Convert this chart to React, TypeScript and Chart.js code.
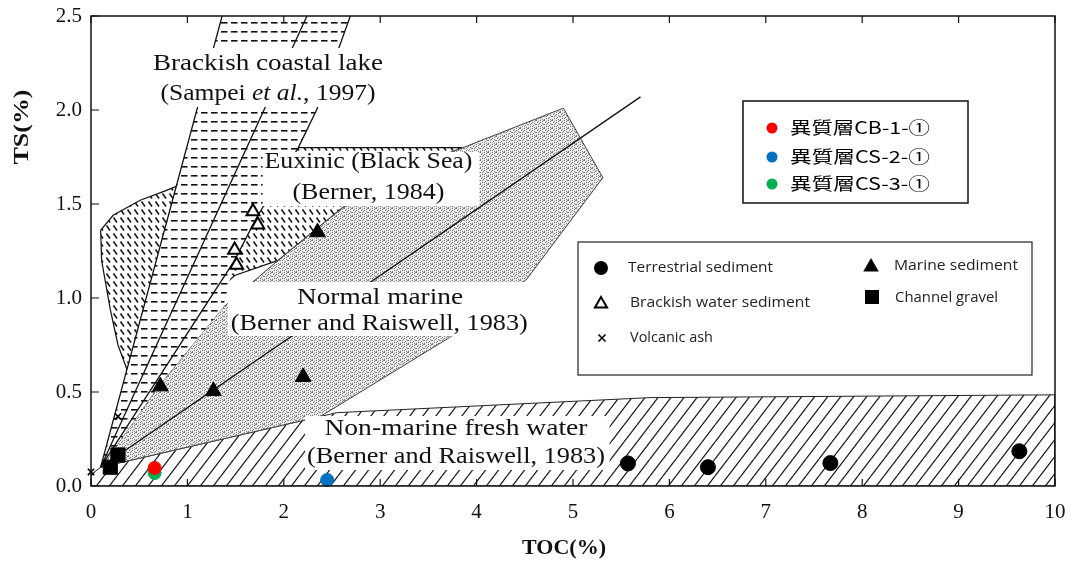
import React, { useEffect, useRef } from 'react';
import { Chart, registerables } from 'chart.js';

Chart.register(...registerables);

// ---------------- axes ----------------
const X_MIN = 0;
const X_MAX = 10;
const X_STEP = 1;
const Y_MIN = 0;
const Y_MAX = 2.5;
const Y_STEP = 0.5;
const xTitle = 'TOC(%)';
const yTitle = 'TS(%)';

// ---------------- sample points (coloured) ----------------
const sampleNames = ['異質層CB-1-①', '異質層CS-2-①', '異質層CS-3-①'];
const sampleColors = ['#ff0000', '#0070c0', '#00b050'];
const sampleTOC = [0.66, 2.45, 0.66];
const sampleTS = [0.096, 0.032, 0.069];

// ---------------- reference sediment points ----------------
const terrestrialTOC = [5.57, 6.4, 7.67, 9.63];
const terrestrialTS = [0.12, 0.1, 0.122, 0.185];
const marineTOC = [0.72, 1.27, 2.2, 2.35];
const marineTS = [0.53, 0.505, 0.58, 1.35];
const brackishTOC = [1.68, 1.73, 1.49, 1.51];
const brackishTS = [1.46, 1.39, 1.255, 1.175];
const gravelTOC = [0.2, 0.28];
const gravelTS = [0.1, 0.165];
const ashTOC = [0.0, 0.28];
const ashTS = [0.075, 0.37];

// ---------------- field outlines ----------------
const freshwaterTOC = [0, 0, 0.1, 2.38, 2.55, 5.8, 10, 10, 0];
const freshwaterTS = [0, 0.06, 0.1, 0.37, 0.39, 0.47, 0.485, 0, 0];
const euxinicTOC = [0.38, 0.28, 0.2, 0.11, 0.1, 0.23, 0.51, 0.77, 1.44, 2.15, 3.86, 3.21, 2.61, 1.94, 1.49, 0.38];
const euxinicTS = [0.61, 0.75, 0.94, 1.2, 1.36, 1.44, 1.52, 1.57, 1.71, 1.8, 1.8, 1.67, 1.48, 1.2, 1.12, 0.61];
const normalMarineTOC = [0.1, 0.145, 0.7, 1.37, 1.94, 2.61, 3.21, 3.86, 4.9, 5.31, 4.52, 3.72, 2.38, 0.1];
const normalMarineTS = [0.1, 0.128, 0.53, 0.95, 1.2, 1.48, 1.67, 1.8, 2.01, 1.64, 1.1, 0.79, 0.37, 0.1];
const brackishLakeTOC = [0.1, 1.36, 2.69, 2.34, 2.15, 1.71, 1.49, 1.37, 0.7, 0.145, 0.1];
const brackishLakeTS = [0.1, 2.5, 2.5, 2.0, 1.8, 1.42, 1.2, 0.95, 0.53, 0.128, 0.1];

// ---------------- lines ----------------
const line1TOC = [0.1, 1.36];
const line1TS = [0.1, 2.5];
const line2TOC = [0.1, 2.24];
const line2TS = [0.1, 2.5];
const line3TOC = [0.1, 1.49, 1.71, 2.15, 2.34, 2.69];
const line3TS = [0.1, 1.2, 1.42, 1.8, 2.0, 2.5];
const line4TOC = [0.1, 5.7];
const line4TS = [0.1, 2.07];

// ---------------- text ----------------
const SERIF = "'Liberation Serif', 'Times New Roman', serif";
const SANS = "'Open Sans', 'Noto Sans', sans-serif";
const CJK = "'Noto Sans CJK JP', 'Noto Sans', sans-serif";

const fieldLabels = [
  {
    box: [0.59, 3.08, 2.016, 2.33],
    rows: [
      { x: 1.836, y: 2.245, w: 230, parts: [{ text: 'Brackish coastal lake' }] },
      { x: 1.836, y: 2.085, w: 215, parts: [{ text: '(Sampei ' }, { text: 'et al.', italic: true }, { text: ', 1997)' }] },
    ],
  },
  {
    box: [1.78, 4.03, 1.489, 1.777],
    rows: [
      { x: 2.878, y: 1.723, w: 208, parts: [{ text: 'Euxinic (Black Sea)' }] },
      { x: 2.878, y: 1.559, w: 152, parts: [{ text: '(Berner, 1984)' }] },
    ],
  },
  {
    box: [1.42, 4.61, 0.798, 1.085],
    rows: [
      { x: 2.998, y: 1.0, w: 166, parts: [{ text: 'Normal marine' }] },
      { x: 2.99, y: 0.862, w: 297, parts: [{ text: '(Berner and Raiswell, 1983)' }] },
    ],
  },
  {
    box: [2.22, 5.38, 0.085, 0.372],
    rows: [
      { x: 3.786, y: 0.303, w: 263, parts: [{ text: 'Non-marine fresh water' }] },
      { x: 3.786, y: 0.154, w: 298, parts: [{ text: '(Berner and Raiswell, 1983)' }] },
    ],
  },
];

const legendKinds = ['Terrestrial sediment', 'Brackish water sediment', 'Volcanic ash', 'Marine sediment', 'Channel gravel'];

const pts = (xs: number[], ys: number[]) => xs.map((x, i) => ({ x, y: ys[i] }));

function makePattern(w: number, h: number, draw: (g: CanvasRenderingContext2D) => void) {
  const c = document.createElement('canvas');
  c.width = w;
  c.height = h;
  const g = c.getContext('2d')!;
  g.fillStyle = '#fff';
  g.fillRect(0, 0, w, h);
  draw(g);
  return g.createPattern(c, 'repeat')!;
}

function drawText(
  ctx: CanvasRenderingContext2D,
  parts: { text: string; italic?: boolean }[],
  cx: number,
  cy: number,
  targetW: number,
  font: string,
  align: 'center' | 'left',
  color = '#111'
) {
  let w = 0;
  const ws = parts.map((p) => {
    ctx.font = (p.italic ? 'italic ' : '') + font;
    const m = ctx.measureText(p.text).width;
    w += m;
    return m;
  });
  const sx = targetW / w;
  ctx.save();
  ctx.translate(cx, cy);
  ctx.scale(sx, 1);
  ctx.textBaseline = 'middle';
  ctx.textAlign = 'left';
  ctx.fillStyle = color;
  let x = align === 'center' ? -w / 2 : 0;
  parts.forEach((p, i) => {
    ctx.font = (p.italic ? 'italic ' : '') + font;
    ctx.fillText(p.text, x, 0);
    x += ws[i];
  });
  ctx.restore();
}

function marker(ctx: CanvasRenderingContext2D, kind: string, x: number, y: number, r: number, fill: string) {
  ctx.save();
  ctx.beginPath();
  if (kind === 'circle') {
    ctx.arc(x, y, r, 0, Math.PI * 2);
    ctx.fillStyle = fill;
    ctx.fill();
  } else if (kind === 'triangle' || kind === 'openTriangle') {
    const h = r * 1.5;
    const half = r * 0.866;
    ctx.moveTo(x, y - r);
    ctx.lineTo(x + half, y + h - r);
    ctx.lineTo(x - half, y + h - r);
    ctx.closePath();
    if (kind === 'triangle') {
      ctx.fillStyle = fill;
      ctx.fill();
    } else {
      ctx.fillStyle = '#fff';
      ctx.fill();
      ctx.lineWidth = 2;
      ctx.strokeStyle = fill;
      ctx.stroke();
    }
  } else if (kind === 'rect') {
    ctx.fillStyle = fill;
    ctx.fillRect(x - r, y - r, 2 * r, 2 * r);
  } else if (kind === 'cross') {
    ctx.moveTo(x - r, y - r);
    ctx.lineTo(x + r, y + r);
    ctx.moveTo(x + r, y - r);
    ctx.lineTo(x - r, y + r);
    ctx.lineWidth = 1.6;
    ctx.strokeStyle = fill;
    ctx.stroke();
  }
  ctx.restore();
}

function drawFieldLabels(chart: any) {
  const ctx: CanvasRenderingContext2D = chart.ctx;
  const xs = chart.scales.x;
  const ys = chart.scales.y;
  fieldLabels.forEach((lab) => {
    const [x0, x1, y0, y1] = lab.box;
    const l = xs.getPixelForValue(x0);
    const r = xs.getPixelForValue(x1);
    const t = ys.getPixelForValue(y1);
    const b = ys.getPixelForValue(y0);
    ctx.save();
    ctx.fillStyle = '#fff';
    ctx.fillRect(l, t, r - l, b - t);
    ctx.restore();
    lab.rows.forEach((row) => {
      drawText(ctx, row.parts, xs.getPixelForValue(row.x), ys.getPixelForValue(row.y), row.w, `24px ${SERIF}`, 'center');
    });
  });
}

const chartPlugin = {
  id: 'tsPlot',
  beforeDatasetDraw(chart: any, args: any) {
    const ds: any = chart.data.datasets[args.index];
    if (!ds.patternFill) return;
    const p = args.meta.data;
    const ctx: CanvasRenderingContext2D = chart.ctx;
    const a = chart.chartArea;
    ctx.save();
    ctx.beginPath();
    ctx.rect(a.left, a.top, a.right - a.left, a.bottom - a.top);
    ctx.clip();
    ctx.beginPath();
    p.forEach((pt: any, i: number) => (i ? ctx.lineTo(pt.x, pt.y) : ctx.moveTo(pt.x, pt.y)));
    ctx.closePath();
    ctx.fillStyle = ds.patternFill;
    ctx.fill();
    ctx.restore();
  },
  afterDatasetDraw(chart: any, args: any) {
    const ds: any = chart.data.datasets[args.index];
    if (ds.labelsAfter) drawFieldLabels(chart);
  },
  afterDraw(chart: any) {
    const ctx: CanvasRenderingContext2D = chart.ctx;
    const a = chart.chartArea;
    const xs = chart.scales.x;
    const ys = chart.scales.y;
    ctx.save();
    ctx.strokeStyle = '#111';
    ctx.lineWidth = 1.5;
    ctx.strokeRect(a.left, a.top, a.right - a.left, a.bottom - a.top);
    ctx.lineWidth = 1.2;
    ctx.beginPath();
    ys.ticks.forEach((t: any) => {
      const y = ys.getPixelForValue(t.value);
      ctx.moveTo(a.left, y);
      ctx.lineTo(a.left + 8, y);
    });
    xs.ticks.forEach((t: any) => {
      const x = xs.getPixelForValue(t.value);
      ctx.moveTo(x, a.bottom);
      ctx.lineTo(x, a.bottom - 7);
      ctx.moveTo(x, a.top);
      ctx.lineTo(x, a.top + 7);
    });
    ctx.stroke();
    ctx.restore();

    // axis titles
    drawText(ctx, [{ text: xTitle }], (a.left + a.right) / 2 - 9, 548, 84, `bold 22px ${SERIF}`, 'center');
    ctx.save();
    ctx.translate(22, 127);
    ctx.rotate(-Math.PI / 2);
    drawText(ctx, [{ text: yTitle }], 0, 0, 75, `bold 22px ${SERIF}`, 'center');
    ctx.restore();

    // legend 1 (samples)
    ctx.save();
    ctx.fillStyle = '#fff';
    ctx.fillRect(743, 101, 225, 102);
    ctx.strokeStyle = '#111';
    ctx.lineWidth = 1.5;
    ctx.strokeRect(743, 101, 225, 102);
    ctx.restore();
    const rowsY = [128, 157, 184];
    sampleNames.forEach((n, i) => {
      marker(ctx, 'circle', 772, rowsY[i], 5.5, sampleColors[i]);
      drawText(ctx, [{ text: n }], 790, rowsY[i], 140, `17px ${CJK}`, 'left', '#000');
    });

    // legend 2 (sediment kinds)
    ctx.save();
    ctx.fillStyle = '#fff';
    ctx.fillRect(578, 242, 454, 133);
    ctx.strokeStyle = '#222';
    ctx.lineWidth = 1.2;
    ctx.strokeRect(578, 242, 454, 133);
    ctx.restore();
    marker(ctx, 'circle', 601, 268, 7, '#000');
    drawText(ctx, [{ text: legendKinds[0] }], 628, 268, 145, `15px ${SANS}`, 'left', '#222');
    marker(ctx, 'openTriangle', 601, 304, 7, '#000');
    drawText(ctx, [{ text: legendKinds[1] }], 630, 303, 180, `15px ${SANS}`, 'left', '#222');
    marker(ctx, 'cross', 602, 338, 3.5, '#000');
    drawText(ctx, [{ text: legendKinds[2] }], 630, 338, 83, `15px ${SANS}`, 'left', '#222');
    marker(ctx, 'triangle', 871, 267, 9, '#000');
    drawText(ctx, [{ text: legendKinds[3] }], 894, 266, 124, `15px ${SANS}`, 'left', '#222');
    marker(ctx, 'rect', 872, 297, 7, '#000');
    drawText(ctx, [{ text: legendKinds[4] }], 895, 298, 103, `15px ${SANS}`, 'left', '#222');
  },
};

export default function App() {
  const ref = useRef<HTMLCanvasElement>(null);
  useEffect(() => {
    const canvas = ref.current!;

    const hatchFresh = makePattern(13, 17, (g) => {
      g.strokeStyle = '#1a1a1a';
      g.lineWidth = 1.25;
      g.beginPath();
      for (let k = -1; k <= 1; k++) {
        g.moveTo(k * 13, 17);
        g.lineTo(k * 13 + 13, 0);
      }
      g.stroke();
    });
    const dashLake = makePattern(10, 9, (g) => {
      g.fillStyle = '#111';
      g.fillRect(1, 4, 6.5, 1.6);
    });
    const hatchEux = makePattern(7, 8, (g) => {
      g.strokeStyle = '#111';
      g.lineWidth = 1.5;
      g.beginPath();
      g.moveTo(1.5, 1.5);
      g.lineTo(5, 6.5);
      g.stroke();
    });
    const stippleRows = ['#...#..#', '..#...#.', '.#..#...', '...#..#.', '#.#....#', '.....#..', '..#.#...', '#.....#.'];
    const stipple = makePattern(8, 8, (g) => {
      g.fillStyle = '#ececec';
      g.fillRect(0, 0, 8, 8);
      g.fillStyle = '#7a7a7a';
      stippleRows.forEach((row, y) => {
        row.split('').forEach((c, x) => {
          if (c === '#') g.fillRect(x, y, 1, 1);
        });
      });
    });

    const region = (label: string, xs: number[], ys: number[], pattern: CanvasPattern, border: string, bw: number, order: number) => ({
      label,
      data: pts(xs, ys),
      showLine: true,
      fill: false,
      pointRadius: 0,
      pointHoverRadius: 0,
      borderColor: border,
      borderWidth: bw,
      patternFill: pattern,
      clip: 0,
      order,
    });
    const line = (label: string, xs: number[], ys: number[], order: number, extra: any = {}) => ({
      label,
      data: pts(xs, ys),
      showLine: true,
      fill: false,
      pointRadius: 0,
      pointHoverRadius: 0,
      borderColor: '#111',
      borderWidth: 1.3,
      clip: 0,
      order,
      ...extra,
    });
    const scatter = (label: string, xs: number[], ys: number[], style: string, r: number, bg: string, border: string, bw: number, order: number) => ({
      label,
      data: pts(xs, ys),
      showLine: false,
      pointStyle: style,
      pointRadius: r,
      pointHoverRadius: r,
      backgroundColor: bg,
      borderColor: border,
      borderWidth: bw,
      clip: false,
      order,
    });

    const datasets: any[] = [
      region('Non-marine fresh water', freshwaterTOC, freshwaterTS, hatchFresh, '#222', 1, 60),
      region('Euxinic', euxinicTOC, euxinicTS, hatchEux, '#111', 1.2, 50),
      region('Normal marine', normalMarineTOC, normalMarineTS, stipple, '#444', 1, 40),
      region('Brackish coastal lake', brackishLakeTOC, brackishLakeTS, dashLake, 'rgba(0,0,0,0)', 1, 30),
      line('line1', line1TOC, line1TS, 23),
      line('line2', line2TOC, line2TS, 22),
      line('line3', line3TOC, line3TS, 21),
      line('line4', line4TOC, line4TS, 20, { labelsAfter: true }),
      scatter(legendKinds[0], terrestrialTOC, terrestrialTS, 'circle', 7.5, '#000', '#000', 1, 10),
      scatter(legendKinds[3], marineTOC, marineTS, 'triangle', 9, '#000', '#000', 1, 9),
      scatter(legendKinds[1], brackishTOC, brackishTS, 'triangle', 7.5, '#fff', '#000', 2, 8),
      scatter(legendKinds[4], gravelTOC, gravelTS, 'rect', 10, '#000', '#000', 1, 7),
      scatter(legendKinds[2], ashTOC, ashTS, 'crossRot', 4.5, '#000', '#000', 1.6, 6),
      ...sampleNames.map((n, i) => scatter(n, [sampleTOC[i]], [sampleTS[i]], 'circle', 6.5, sampleColors[i], sampleColors[i], 1, i)),
    ];

    const tickFont = { family: SERIF, size: 21 };
    const chart = new Chart(canvas, {
      type: 'scatter',
      data: { datasets },
      options: {
        animation: false,
        responsive: false,
        devicePixelRatio: 1,
        events: [],
        layout: { padding: { left: 0, top: 16, right: 22, bottom: 0 } },
        plugins: { legend: { display: false }, tooltip: { enabled: false } },
        scales: {
          x: {
            type: 'linear',
            min: X_MIN,
            max: X_MAX,
            ticks: { stepSize: X_STEP, font: tickFont, color: '#111', padding: 14, callback: (v: any) => String(v) },
            grid: { display: false, drawTicks: false },
            border: { display: false },
            afterFit: (s: any) => {
              s.height = 76;
              s.paddingLeft = 0;
              s.paddingRight = 0;
            },
          },
          y: {
            type: 'linear',
            min: Y_MIN,
            max: Y_MAX,
            ticks: { stepSize: Y_STEP, font: tickFont, color: '#111', padding: 9, callback: (v: any) => Number(v).toFixed(1) },
            grid: { display: false, drawTicks: false },
            border: { display: false },
            afterFit: (s: any) => {
              s.width = 91;
              s.paddingTop = 0;
              s.paddingBottom = 0;
            },
          },
        },
      } as any,
      plugins: [chartPlugin as any],
    });
    return () => chart.destroy();
  }, []);

  return (
    <div style={{ position: 'absolute', left: 0, top: 0, width: 1077, height: 562, background: '#fff' }}>
      <canvas ref={ref} width={1077} height={562} style={{ display: 'block', width: 1077, height: 562 }} />
    </div>
  );
}
